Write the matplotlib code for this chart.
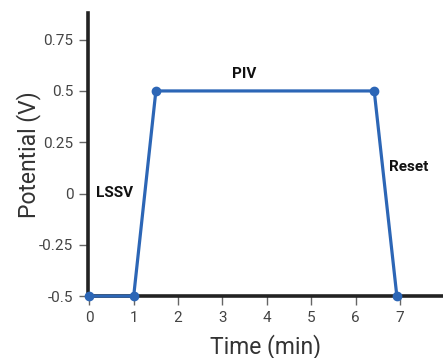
import matplotlib
matplotlib.use("Agg")
import matplotlib.pyplot as plt

time_min = [0, 1, 1.5, 6.42, 6.93]
potential_v = [-0.5, -0.5, 0.5, 0.5, -0.5]
x_ticks = [0, 1, 2, 3, 4, 5, 6, 7]
y_ticks = [-0.5, -0.25, 0, 0.25, 0.5, 0.75]
y_tick_labels = ["-0.5", "-0.25", "0", "0.25", "0.5", "0.75"]
phase_labels = ["LSSV", "PIV", "Reset"]
phase_x = [0.14, 3.48, 6.75]
phase_y = [0.004, 0.585, 0.13]
phase_ha = ["left", "center", "left"]

plt.rcParams['font.family'] = ['Roboto', 'DejaVu Sans']

fig = plt.figure(figsize=(4.43, 3.58), dpi=100)
ax = fig.add_axes([0.1986, 0.173, 0.8014, 0.7907])

blue = "#2c66b6"
ax.plot(time_min, potential_v, color=blue, lw=2.3, marker='o', ms=6,
        clip_on=False, zorder=5)

ax.set_xlim(-0.03, 7.97)
ax.set_ylim(-0.5, 0.88)
ax.set_xticks(x_ticks)
ax.set_yticks(y_ticks)
ax.set_yticklabels(y_tick_labels)

for s in ['top', 'right']:
    ax.spines[s].set_visible(False)
for s in ['left', 'bottom']:
    ax.spines[s].set_linewidth(2.6)
    ax.spines[s].set_color('#222222')
    ax.spines[s].set_zorder(3)

ax.tick_params(axis='both', length=6.5, width=1.0, color='#666666',
               labelsize=11, labelcolor='#444444', pad=4)

ax.set_xlabel("Time (min)", fontsize=16.5, color='#333333', labelpad=7)
ax.set_ylabel("Potential (V)", fontsize=16.5, color='#333333', labelpad=-1)

for lab, x, y, ha in zip(phase_labels, phase_x, phase_y, phase_ha):
    ax.text(x, y, lab, ha=ha, va='center', fontsize=11, fontweight='bold',
            color='#111111')

fig.savefig("out.png", dpi=100)
